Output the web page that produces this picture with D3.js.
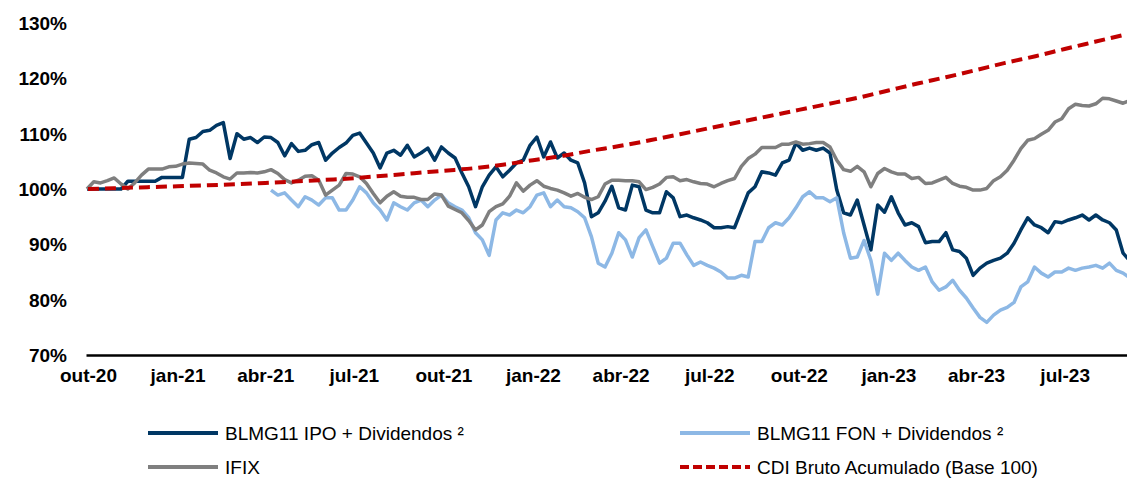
<!DOCTYPE html>
<html><head><meta charset="utf-8">
<script src="https://cdn.jsdelivr.net/npm/d3@7"></script>
<style>
body{margin:0;background:#fff}
svg{display:block}
text{font-family:"Liberation Sans",Arial,sans-serif}
</style>
</head><body>
<svg id="chart" width="1127" height="479"></svg>
<script>
// weekly observations starting 30/09/2020
const weekStart = new Date(2020, 8, 30);

const ipoValues = [
100,100,100,100,100,100,101.4,101.4,101.4,101.4,
101.4,102.1,102.1,102.1,102.1,109.0,109.3,110.4,110.6,111.5,
112.0,105.5,110.0,109.0,109.3,108.4,109.4,109.3,108.4,106.0,
108.2,106.8,107.0,108.0,108.4,105.2,106.5,107.5,108.3,109.7,
110.1,108.3,106.5,103.8,106.5,107.0,106.1,107.9,105.8,106.5,
107.4,105.2,107.6,106.5,105.6,102.9,100.4,96.8,100.4,102.5,
104.0,102.2,103.4,104.7,105.2,107.9,109.4,105.8,108.5,105.6,
106.5,105.2,104.7,101.1,95.0,95.7,97.8,100.5,96.6,96.2,
100.7,100.4,96.2,95.7,95.7,99.5,98.4,95.0,95.3,94.8,
94.4,93.9,93.0,93.0,93.2,93.0,96.2,99.3,100.4,103.1,
102.9,102.5,104.7,105.2,108.3,107.0,107.4,107.0,107.4,106.5,
99.8,95.7,95.3,98.0,93.5,89.0,97.1,95.8,98.6,95.7,
93.5,93.9,93.2,90.3,90.5,90.5,92.1,89.0,88.7,87.5,
84.4,85.7,86.6,87.1,87.5,88.4,90.2,92.6,94.8,93.5,
93.0,92.1,94.1,93.9,94.4,94.8,95.3,94.4,95.3,94.4,
93.9,92.6,88.4,87.0
];

const fonStartWeek = 27;
const fonValues = [
99.8,98.9,99.3,98.0,96.8,98.6,98.0,97.1,98.4,98.4,
96.2,96.2,98.0,100.4,99.3,97.5,96.2,94.4,97.5,96.8,
96.2,97.5,98.0,96.8,98.0,98.9,97.5,96.8,96.2,94.8,
92.1,90.8,88.0,94.4,95.7,95.3,96.2,95.7,96.8,98.9,
99.3,96.8,98.0,96.8,96.6,95.9,94.8,91.4,86.6,85.9,
88.4,92.1,90.8,87.7,91.2,92.6,89.6,86.6,87.5,90.2,
90.2,88.1,86.2,86.8,86.2,85.7,85.0,83.9,83.9,84.4,
84.1,90.5,90.5,93.0,93.9,93.5,94.8,96.6,98.6,99.5,
98.4,98.4,97.7,98.4,92.1,87.5,87.7,90.7,87.1,81.0,
88.4,87.1,88.4,87.1,85.9,85.3,85.9,83.2,81.7,82.3,
83.5,81.7,80.3,78.5,76.8,75.9,77.2,78.1,78.6,79.5,
82.3,83.2,85.9,84.8,84.1,85.0,85.0,85.7,85.3,85.7,
85.9,86.2,85.7,86.6,85.3,84.8,83.9
];

const ifixValues = [
100.0,101.3,101.1,101.5,102.0,100.9,100.0,101.1,102.5,103.6,
103.6,103.6,104.0,104.1,104.5,104.7,104.6,104.5,103.4,102.9,
102.2,101.8,102.9,102.9,103.0,102.9,103.1,103.5,102.8,101.7,
101.1,101.6,102.3,102.4,101.6,98.9,99.8,100.7,102.8,102.7,
102.2,101.0,99.2,97.5,98.7,99.5,98.7,98.5,98.5,98.1,
98.1,99.1,98.9,96.9,96.3,95.7,94.3,92.6,93.5,95.9,
96.8,97.3,98.7,101.1,99.6,100.7,101.5,100.5,100.1,99.8,
99.3,98.7,99.2,98.5,98.1,98.6,100.9,101.6,101.6,101.5,
101.5,101.3,99.9,100.3,100.9,102.1,102.2,101.5,101.7,101.3,
101.0,100.9,100.4,101.0,101.5,101.9,104.1,105.5,106.3,107.5,
107.5,107.5,108.1,108.1,108.5,108.1,108.2,108.4,108.4,107.6,
105.2,103.5,103.2,104.1,103.1,100.4,102.8,103.7,103.1,102.7,
102.7,101.9,102.1,101.0,101.1,101.6,102.1,101.0,100.5,100.3,
99.8,99.8,100.1,101.5,102.2,103.4,105.2,107.3,108.8,109.1,
109.9,110.6,112.1,112.7,114.5,115.3,115.1,115.0,115.4,116.4,
116.3,115.9,115.5,116.0
];

// monthly CDI accumulated, starting 01/10/2020
const cdiStart = new Date(2020, 9, 1);
const cdiValues = [
100.0,100.17,100.33,100.5,100.67,100.85,101.1,101.35,101.65,101.95,
102.4,102.85,103.3,103.75,104.4,105.2,106.0,106.9,107.8,108.8,
109.9,111.0,112.1,113.2,114.3,115.4,116.5,117.8,119.1,120.2,
121.5,122.8,124.0,125.3,126.6,127.9
];

const yTicks = [70, 80, 90, 100, 110, 120, 130];
const xTickLabels = ["out-20","jan-21","abr-21","jul-21","out-21","jan-22","abr-22","jul-22","out-22","jan-23","abr-23","jul-23"];

const seriesNames = ["BLMG11 IPO + Dividendos ²","BLMG11 FON + Dividendos ²","IFIX","CDI Bruto Acumulado (Base 100)"];
const seriesColors = ["#003764","#8DB8E5","#7F7F7F","#C00000"];

const svg = d3.select("#chart");

const x = d3.scaleTime()
  .domain([new Date(2020, 8, 29), new Date(2023, 8, 3)])
  .range([86, 1127]);
const y = d3.scaleLinear().domain([70, 130]).range([355, 23]);

const weekDate = i => d3.timeDay.offset(weekStart, 7 * i);

const ipo = ipoValues.map((v, i) => ({d: weekDate(i), v}));
const fon = fonValues.map((v, i) => ({d: weekDate(i + fonStartWeek), v}));
const ifix = ifixValues.map((v, i) => ({d: weekDate(i), v}));
const cdi = cdiValues.map((v, i) => ({d: d3.timeMonth.offset(cdiStart, i), v}));

svg.append("defs").append("clipPath").attr("id","clip")
  .append("rect").attr("x",80).attr("y",0).attr("width",1047).attr("height",360);

// y labels
svg.append("g").selectAll("text").data(yTicks).join("text")
  .attr("x", 67).attr("y", d => y(d)).attr("dy", "0.36em")
  .attr("text-anchor", "end")
  .attr("font-size", 19).attr("font-weight", "bold").attr("fill", "#000")
  .text(d => d + "%");

// x axis
const xTickDates = xTickLabels.map((_, i) => d3.timeMonth.offset(new Date(2020, 9, 1), 3 * i));
const xAxis = d3.axisBottom(x).tickValues(xTickDates)
  .tickFormat((d, i) => xTickLabels[i]).tickSize(0).tickPadding(14);
const gx = svg.append("g").attr("transform", `translate(0,${y(70)})`).call(xAxis);
gx.select(".domain").attr("stroke", "#000").attr("stroke-width", 2.5);
gx.selectAll("text").attr("font-size", 19).attr("font-weight", "bold")
  .attr("fill", "#000").attr("font-family", '"Liberation Sans",Arial,sans-serif');

const line = d3.line().x(d => x(d.d)).y(d => y(d.v));
const cdiLine = d3.line().x(d => x(d.d)).y(d => y(d.v)).curve(d3.curveMonotoneX);

const g = svg.append("g").attr("clip-path", "url(#clip)");
g.append("path").datum(ipo).attr("d", line).attr("fill","none")
  .attr("stroke", seriesColors[0]).attr("stroke-width", 3.5).attr("stroke-linejoin","round");
g.append("path").datum(fon).attr("d", line).attr("fill","none")
  .attr("stroke", seriesColors[1]).attr("stroke-width", 3.5).attr("stroke-linejoin","round");
g.append("path").datum(ifix).attr("d", line).attr("fill","none")
  .attr("stroke", seriesColors[2]).attr("stroke-width", 3.5).attr("stroke-linejoin","round");
g.append("path").datum(cdi).attr("d", cdiLine).attr("fill","none")
  .attr("stroke", seriesColors[3]).attr("stroke-width", 4).attr("stroke-dasharray","11,6");

// legend
const legendPos = [[148, 433], [680, 433], [148, 467], [680, 467]];
const lg = svg.append("g");
seriesNames.forEach((name, i) => {
  const [lx, ly] = legendPos[i];
  lg.append("line").attr("x1", lx).attr("x2", lx + 70).attr("y1", ly).attr("y2", ly)
    .attr("stroke", seriesColors[i]).attr("stroke-width", 4)
    .attr("stroke-dasharray", i === 3 ? "9,4" : null);
  lg.append("text").attr("x", lx + 77).attr("y", ly).attr("dy", "0.36em")
    .attr("font-size", 19).attr("fill", "#000").text(name);
});
</script>
</body></html>
